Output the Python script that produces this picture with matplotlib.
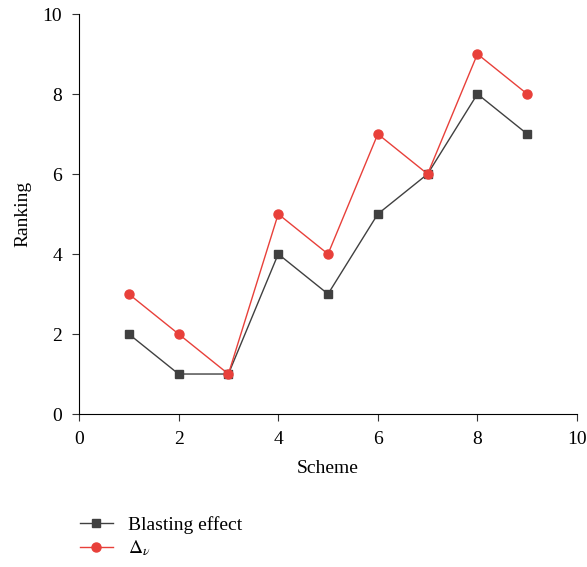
import matplotlib.pyplot as plt

plt.rcParams['font.family'] = ['Liberation Serif', 'DejaVu Serif']
plt.rcParams['mathtext.fontset'] = 'stix'

# data
scheme = [1, 2, 3, 4, 5, 6, 7, 8, 9]
blasting = [2, 1, 1, 4, 3, 5, 6, 8, 7]
delta_v = [3, 2, 1, 5, 4, 7, 6, 9, 8]

fig = plt.figure(figsize=(5.87, 5.67), dpi=100)
ax = fig.add_axes([0.1346, 0.2698, 0.8484, 0.7055])

ax.plot(scheme, blasting, color='#404040', lw=1, marker='s', ms=5.5, label='Blasting effect')
ax.plot(scheme, delta_v, color='#e8403a', lw=1, marker='o', ms=6.5, label=r'$\Delta_\nu$')

ax.set_xlim(0, 10)
ax.set_ylim(0, 10)
ax.set_xticks([0, 2, 4, 6, 8, 10])
ax.set_yticks([0, 2, 4, 6, 8, 10])
ax.spines['top'].set_visible(False)
ax.spines['right'].set_visible(False)
ax.tick_params(direction='out', length=5, labelsize=14, pad=7, color='#333333')
ax.set_xlabel('Scheme', fontsize=14, labelpad=9)
ax.set_ylabel('Ranking', fontsize=14, labelpad=8)

fig.legend(loc='upper left', bbox_to_anchor=(0.106, 0.121), frameon=False,
           fontsize=14, handlelength=1.7, handletextpad=0.8, labelspacing=0.25)

plt.savefig('out.png')
